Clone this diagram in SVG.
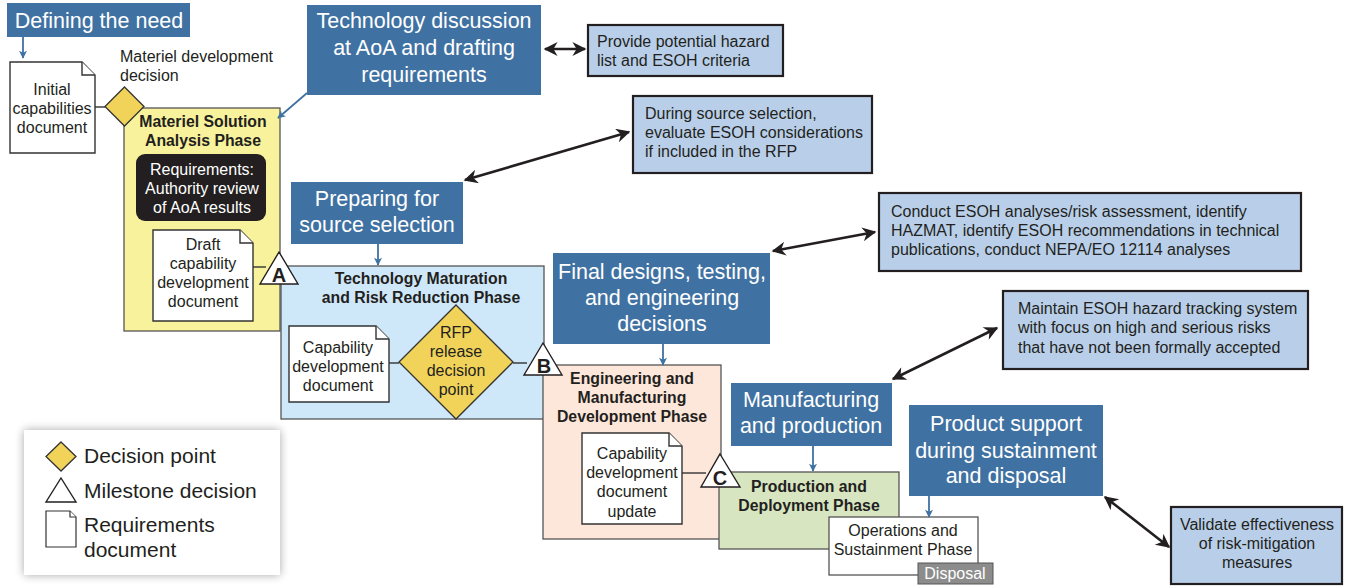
<svg xmlns="http://www.w3.org/2000/svg" width="1347" height="586" viewBox="0 0 1347 586">
<defs>
<style>
text{font-family:"Liberation Sans",Arial,sans-serif;fill:#231f20}
.lbl{fill:#3f72a2}
.lt{fill:#fff;font-size:21.5px;text-anchor:middle}
.doc{fill:#fff;stroke:#333;stroke-width:1.4}
.dt{font-size:16px;text-anchor:middle}
.ph{stroke:#555;stroke-width:1.3}
.pt{font-size:15.8px;font-weight:bold;text-anchor:middle}
.es{fill:#b9cfe9;stroke:#231f20;stroke-width:2.2}
.et{font-size:16px}
.dia{fill:#f1d35a;stroke:#333;stroke-width:1.3}
.tri{fill:#fff;stroke:#231f20;stroke-width:1.4}
.tl{font-size:20px;font-weight:bold;text-anchor:middle}
.ba{stroke:#3f72a2;stroke-width:1.8;fill:none;marker-end:url(#bh)}
.ka{stroke:#231f20;stroke-width:2.6;fill:none;marker-start:url(#kh);marker-end:url(#kh)}
.ln{stroke:#333;stroke-width:1.4;fill:none}
.lg{font-size:21px}
</style>
<marker id="bh" viewBox="0 0 10 10" refX="9" refY="5" markerWidth="9" markerHeight="8" orient="auto-start-reverse" markerUnits="userSpaceOnUse">
<path d="M0,0 L10,5 L0,10 L2.5,5 Z" fill="#3f72a2"/>
</marker>
<marker id="kh" viewBox="0 0 10 10" refX="9" refY="5" markerWidth="16" markerHeight="14" orient="auto-start-reverse" markerUnits="userSpaceOnUse">
<path d="M0,0 L10,5 L0,10 L3,5 Z" fill="#231f20"/>
</marker>
<filter id="sh" x="-20%" y="-20%" width="140%" height="140%">
<feGaussianBlur in="SourceAlpha" stdDeviation="5"/>
<feComponentTransfer><feFuncA type="linear" slope="0.35"/></feComponentTransfer>
<feMerge><feMergeNode/><feMergeNode in="SourceGraphic"/></feMerge>
</filter>
</defs>
<rect width="1347" height="586" fill="#fff"/>

<!-- Phases -->
<g id="phase-msa">
<rect class="ph" x="124" y="108" width="156" height="223" fill="#f8f29c"/>
<text class="pt" x="203" y="127">Materiel Solution</text>
<text class="pt" x="203" y="146">Analysis Phase</text>
</g>
<g id="req-authority">
<rect x="136" y="154" width="130" height="67" rx="9" fill="#231f20"/>
<text class="dt" x="202" y="175" style="fill:#fff">Requirements:</text>
<text class="dt" x="202" y="194" style="fill:#fff">Authority review</text>
<text class="dt" x="202" y="213" style="fill:#fff">of AoA results</text>
</g>
<g id="phase-tmrr">
<rect class="ph" x="281" y="266" width="263" height="153" fill="#cfe8f9"/>
<text class="pt" x="421" y="284">Technology Maturation</text>
<text class="pt" x="421" y="303">and Risk Reduction Phase</text>
</g>
<g id="phase-emd">
<rect class="ph" x="543" y="365" width="178" height="174" fill="#fde7da"/>
<text class="pt" x="632" y="384">Engineering and</text>
<text class="pt" x="632" y="403">Manufacturing</text>
<text class="pt" x="632" y="422">Development Phase</text>
</g>
<g id="phase-pd">
<rect class="ph" x="719" y="472" width="180" height="77" fill="#d7e5c0"/>
<text class="pt" x="809" y="492">Production and</text>
<text class="pt" x="809" y="511">Deployment Phase</text>
</g>
<g id="phase-os">
<rect class="ph" x="829" y="517" width="149" height="58" fill="#fff"/>
<text class="dt" x="903" y="536">Operations and</text>
<text class="dt" x="903" y="555">Sustainment Phase</text>
</g>
<g id="disposal">
<rect x="918" y="563" width="75" height="21" fill="#8c8c8c" stroke="#555" stroke-width="1"/>
<text x="955" y="579" style="fill:#fff;font-size:16px;text-anchor:middle">Disposal</text>
</g>

<!-- Connector lines between docs and decisions -->
<g id="connectors">
<path class="ln" d="M94,107 H105"/>
<path class="ln" d="M253,267 H266"/>
<path class="ln" d="M389,363 H399"/>
<path class="ln" d="M513,363 H527"/>
<path class="ln" d="M682,473 H706"/>
<path class="ba" d="M23,37 V58"/>
<path class="ba" d="M307,93 L278,118"/>
<path class="ba" d="M378,244 V265"/>
<path class="ba" d="M663,344 V365"/>
<path class="ba" d="M813,446 V471"/>
<path class="ba" d="M929,496 V517"/>
<path class="ka" d="M545,49 H585"/>
<path class="ka" d="M465,180 L629,132"/>
<path class="ka" d="M773,251 L875,232"/>
<path class="ka" d="M893,379 L997,328"/>
<path class="ka" d="M1105,497 L1169,547"/>
</g>

<!-- Documents -->
<g id="doc-icd">
<path class="doc" d="M10,62 H82 L95,75 V153 H10 Z"/>
<path class="doc" d="M82,62 V75 H95" fill="none"/>
<text class="dt" x="52" y="95">Initial</text>
<text class="dt" x="52" y="114">capabilities</text>
<text class="dt" x="52" y="133">document</text>
</g>
<g id="doc-draft-cdd">
<path class="doc" d="M153,230 H240 L253,243 V321 H153 Z"/>
<path class="doc" d="M240,230 V243 H253" fill="none"/>
<text class="dt" x="203" y="250">Draft</text>
<text class="dt" x="203" y="269">capability</text>
<text class="dt" x="203" y="288">development</text>
<text class="dt" x="203" y="307">document</text>
</g>
<g id="doc-cdd">
<path class="doc" d="M289,326 H376 L389,339 V402 H289 Z"/>
<path class="doc" d="M376,326 V339 H389" fill="none"/>
<text class="dt" x="338" y="353">Capability</text>
<text class="dt" x="338" y="372">development</text>
<text class="dt" x="338" y="391">document</text>
</g>
<g id="doc-cdd-update">
<path class="doc" d="M582,433 H669 L682,446 V524 H582 Z"/>
<path class="doc" d="M669,433 V446 H682" fill="none"/>
<text class="dt" x="632" y="459">Capability</text>
<text class="dt" x="632" y="478">development</text>
<text class="dt" x="632" y="497">document</text>
<text class="dt" x="632" y="517">update</text>
</g>

<!-- Decisions -->
<g id="mdd">
<path class="dia" d="M124.5,87 L144,106.5 L124.5,126 L105,106.5 Z"/>
<text x="120" y="62" style="font-size:16px">Materiel development</text>
<text x="120" y="81" style="font-size:16px">decision</text>
</g>
<g id="rfp">
<path class="dia" d="M456,305 L513,362 L456,419 L399,362 Z"/>
<text class="dt" x="456" y="338">RFP</text>
<text class="dt" x="456" y="357">release</text>
<text class="dt" x="456" y="376">decision</text>
<text class="dt" x="456" y="395">point</text>
</g>
<g id="ms-a">
<path class="tri" d="M279,252 L298,284 L260,284 Z"/>
<text class="tl" x="279" y="282">A</text>
</g>
<g id="ms-b">
<path class="tri" d="M543,343 L562,375 L524,375 Z"/>
<text class="tl" x="544" y="373">B</text>
</g>
<g id="ms-c">
<path class="tri" d="M720,454 L740,487 L701,487 Z"/>
<text class="tl" x="720" y="485">C</text>
</g>

<!-- Blue activity labels -->
<g id="lbl-need">
<rect class="lbl" x="7" y="3" width="183" height="34"/>
<text class="lt" x="99" y="28">Defining the need</text>
</g>
<g id="lbl-tech">
<rect class="lbl" x="307" y="5" width="234" height="90"/>
<text class="lt" x="424" y="28">Technology discussion</text>
<text class="lt" x="424" y="55">at AoA and drafting</text>
<text class="lt" x="424" y="82">requirements</text>
</g>
<g id="lbl-source">
<rect class="lbl" x="291" y="182" width="172" height="62"/>
<text class="lt" x="377" y="206">Preparing for</text>
<text class="lt" x="377" y="232">source selection</text>
</g>
<g id="lbl-final">
<rect class="lbl" x="553" y="253" width="217" height="91"/>
<text class="lt" x="662" y="279">Final designs, testing,</text>
<text class="lt" x="662" y="305">and engineering</text>
<text class="lt" x="662" y="331">decisions</text>
</g>
<g id="lbl-mfg">
<rect class="lbl" x="731" y="383" width="161" height="63"/>
<text class="lt" x="811" y="407">Manufacturing</text>
<text class="lt" x="811" y="433">and production</text>
</g>
<g id="lbl-support">
<rect class="lbl" x="909" y="405" width="194" height="91"/>
<text class="lt" x="1006" y="431">Product support</text>
<text class="lt" x="1006" y="458">during sustainment</text>
<text class="lt" x="1006" y="483">and disposal</text>
</g>

<!-- ESOH boxes -->
<g id="esoh-1">
<rect class="es" x="588" y="25" width="195" height="51"/>
<text class="et" x="597" y="47">Provide potential hazard</text>
<text class="et" x="597" y="66">list and ESOH criteria</text>
</g>
<g id="esoh-2">
<rect class="es" x="633" y="96" width="239" height="77"/>
<text class="et" x="645" y="119">During source selection,</text>
<text class="et" x="645" y="138">evaluate ESOH considerations</text>
<text class="et" x="645" y="157">if included in the RFP</text>
</g>
<g id="esoh-3">
<rect class="es" x="879" y="193" width="422" height="78"/>
<text class="et" x="891" y="217">Conduct ESOH analyses/risk assessment, identify</text>
<text class="et" x="891" y="236">HAZMAT, identify ESOH recommendations in technical</text>
<text class="et" x="891" y="255">publications, conduct NEPA/EO 12114 analyses</text>
</g>
<g id="esoh-4">
<rect class="es" x="1003" y="291" width="305" height="78"/>
<text class="et" x="1018" y="314">Maintain ESOH hazard tracking system</text>
<text class="et" x="1018" y="333">with focus on high and serious risks</text>
<text class="et" x="1018" y="353">that have not been formally accepted</text>
</g>
<g id="esoh-5">
<rect class="es" x="1171" y="507" width="171" height="77"/>
<text class="et" x="1257" y="530" text-anchor="middle">Validate effectiveness</text>
<text class="et" x="1257" y="549" text-anchor="middle">of risk-mitigation</text>
<text class="et" x="1257" y="568" text-anchor="middle">measures</text>
</g>

<!-- Legend -->
<g id="legend">
<rect x="24" y="430" width="256" height="145" fill="#fff" filter="url(#sh)"/>
<path class="dia" d="M61,442 L76,456.5 L61,471 L46,456.5 Z"/>
<text class="lg" x="84" y="463">Decision point</text>
<path class="tri" d="M61,478 L76,502 L46,502 Z"/>
<text class="lg" x="84" y="498">Milestone decision</text>
<path class="doc" d="M46,511 H70 L76,517 V547 H46 Z" style="stroke-width:1.2"/>
<path class="doc" d="M70,511 V517 H76" fill="none" style="stroke-width:1.2"/>
<text class="lg" x="84" y="532">Requirements</text>
<text class="lg" x="84" y="557">document</text>
</g>
</svg>
